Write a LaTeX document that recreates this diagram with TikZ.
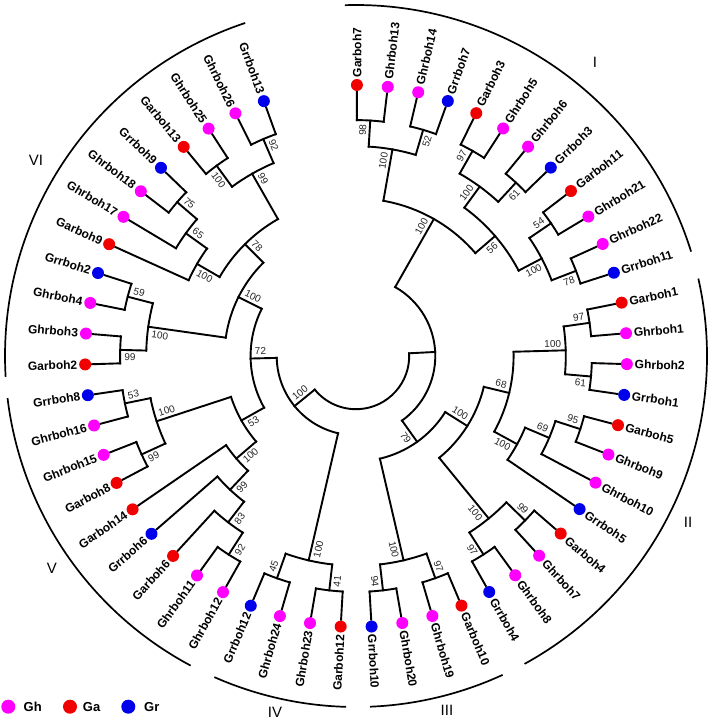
\documentclass[tikz,border=0pt]{standalone}
\usepackage{fontspec}
\setmainfont{Liberation Sans}
\definecolor{colGh}{RGB}{255,0,255}
\definecolor{colGa}{RGB}{240,0,0}
\definecolor{colGr}{RGB}{0,0,235}

\begin{document}
\begin{tikzpicture}[line width=1.9pt, line cap=rect,
    leaf/.style={font=\bfseries\fontsize{12}{14}\selectfont, inner sep=1pt},
    boot/.style={font=\fontsize{10}{12}\selectfont, text=black!85, inner sep=2.5pt},
    dot/.style={circle, inner sep=0pt, minimum size=12pt},
    clade/.style={font=\fontsize{15}{18}\selectfont},
    key/.style={font=\bfseries\fontsize{13}{15}\selectfont, inner sep=0pt}]
  \useasboundingbox (-356pt,-365pt) rectangle (353pt,356pt);

  % internal nodes: name / position / height / parent height / first / last child / support / side
  \foreach \nm/\tp/\hh/\hp/\fa/\fb/\bsv/\sd in {
      n98/0.5/1/2/0/1/98/1, n52/2.5/1/2/2/3/52/-1, n100a/1.5/2/4/0.5/2.5/100/1,
      n97/4.5/1/2/4/5/97/1, n61/6.5/1/2/6/7/61/-1, n100b/5.5/2/3/4.5/6.5/100/1,
      n54/8.5/1/2/8/9/54/1, n78/10.5/1/2/10/11/78/-1, n100c/9.5/2/3/8.5/10.5/100/-1,
      n56/7.5/3/4/5.5/9.5/56/-1, nI/4.5/4/7/1.5/7.5/100/1,
      n97II/12.5/1/2/12/13/97/1, n61II/14.5/1/2/14/15/61/-1, n100IIa/13.5/2/4/12.5/14.5/100/1,
      n95/16.5/1/2/16/17/95/1, n69/17.25/2/3/16.5/18/69/1, n100IIb/18.125/3/4/17.25/19/100/-1,
      n68/15.8125/4/5/13.5/18.125/68/1, n99II/20.5/1/2/20/21/99/1, n97IIb/22.5/1/2/22/23/97/-1,
      n100IIc/21.5/2/5/20.5/22.5/100/-1, nII/18.65625/5/6/15.8125/21.5/100/1,
      n97III/24.5/1/2/24/25/97/1, n94/26.5/1/2/26/27/94/-1, nIII/25.5/2/6/24.5/26.5/100/-1,
      n79/22.078125/6/7/18.65625/25.5/79/-1,
      n41/28.5/1/2/28/29/41/1, n45/30.5/1/2/30/31/45/-1, nIV/29.5/2/7/28.5/30.5/100/1,
      n92V/32.5/1/2/32/33/92/1, n83/33.25/2/3/32.5/34/83/1, n99V/34.125/3/4/33.25/35/99/1,
      n100V/35.0625/4/5/34.125/36/100/1, n99Vb/37.5/1/2/37/38/99/1, n53/39.5/1/2/39/40/53/-1,
      n100Vb/38.5/2/5/37.5/39.5/100/-1, nV/36.78125/5/6/35.0625/38.5/53/1,
      n99VI/41.5/1/2/41/42/99/1, n59/43.5/1/2/43/44/59/-1, n100VI/42.5/2/5/41.5/43.5/100/1,
      n75/47.5/1/2/47/48/75/-1, n65/46.75/2/3/46/47.5/65/-1, n100VIb/45.875/3/4/45/46.75/100/1,
      n100VIc/49.5/1/2/49/50/100/1, n92VI/51.5/1/2/51/52/92/-1, n99VIb/50.5/2/4/49.5/51.5/99/-1,
      n78VI/48.1875/4/5/45.875/50.5/78/-1, nVI/45.34375/5/6/42.5/48.1875/100/-1,
      n72/41.0625/6/7/36.78125/45.34375/72/-1, nA/35.28125/7/8/29.5/41.0625/100/-1}
  {
    \pgfmathsetmacro\an{89.8-6.537*\tp}
    \pgfmathsetmacro\rr{262-26.1*\hh}
    \pgfmathsetmacro\rpar{262-26.1*\hp}
    \pgfmathsetmacro\aa{89.8-6.537*\fa}
    \pgfmathsetmacro\ab{89.8-6.537*\fb}
    \pgfmathsetmacro\rl{\rr-1}
    \coordinate (\nm) at (\an:\rr pt);
    \coordinate (\nm-b) at (\an:\rpar pt);
    \coordinate (\nm-s) at (\aa:\rr pt);
    \draw (\nm-b) -- (\nm);
    \draw (\nm-s) arc[start angle=\aa, end angle=\ab, radius=\rr pt];
    \ifdim\an pt>-90pt
      \edef\rot{\an}
      \ifnum\sd>0 \def\anc{south east}\else\def\anc{north east}\fi
    \else
      \pgfmathsetmacro\rot{\an+180}
      \ifnum\sd>0 \def\anc{north west}\else\def\anc{south west}\fi
    \fi
    \node[boot, anchor=\anc, rotate=\rot] (\nm-l) at (\an:\rl pt) {\bsv};
  }

  % the two branches next to the root
  \pgfmathsetmacro\an{89.8-6.537*13.2890625}
  \pgfmathsetmacro\aa{89.8-6.537*4.5}
  \pgfmathsetmacro\ab{89.8-6.537*22.078125}
  \coordinate (nB) at (\an:79.3pt);
  \coordinate (nB-b) at (\an:53.2pt);
  \coordinate (nB-s) at (\aa:79.3pt);
  \draw (nB-b) -- (nB);
  \draw (nB-s) arc[start angle=\aa, end angle=\ab, radius=79.3pt];
  \pgfmathsetmacro\aa{89.8-6.537*35.28125}
  \coordinate (root-s) at (\an:53.2pt);
  \draw (root-s) arc[start angle=\an, end angle=\aa, radius=53.2pt];

  % leaves
  \foreach \nm/\tp/\hp/\sp in {
      Garboh7/0/1/Ga, Ghrboh13/1/1/Gh, Ghrboh14/2/1/Gh, Grrboh7/3/1/Gr,
      Garboh3/4/1/Ga, Ghrboh5/5/1/Gh, Ghrboh6/6/1/Gh, Grrboh3/7/1/Gr,
      Garboh11/8/1/Ga, Ghrboh21/9/1/Gh, Ghrboh22/10/1/Gh, Grrboh11/11/1/Gr,
      Garboh1/12/1/Ga, Ghrboh1/13/1/Gh, Ghrboh2/14/1/Gh, Grrboh1/15/1/Gr,
      Garboh5/16/1/Ga, Ghrboh9/17/1/Gh, Ghrboh10/18/2/Gh, Grrboh5/19/3/Gr,
      Garboh4/20/1/Ga, Ghrboh7/21/1/Gh, Ghrboh8/22/1/Gh, Grrboh4/23/1/Gr,
      Garboh10/24/1/Ga, Ghrboh19/25/1/Gh, Ghrboh20/26/1/Gh, Grrboh10/27/1/Gr,
      Garboh12/28/1/Ga, Ghrboh23/29/1/Gh, Ghrboh24/30/1/Gh, Grrboh12/31/1/Gr,
      Ghrboh12/32/1/Gh, Ghrboh11/33/1/Gh, Garboh6/34/2/Ga, Grrboh6/35/3/Gr,
      Garboh14/36/4/Ga, Garboh8/37/1/Ga, Ghrboh15/38/1/Gh, Ghrboh16/39/1/Gh,
      Grrboh8/40/1/Gr, Garboh2/41/1/Ga, Ghrboh3/42/1/Gh, Ghrboh4/43/1/Gh,
      Grrboh2/44/1/Gr, Garboh9/45/3/Ga, Ghrboh17/46/2/Gh, Ghrboh18/47/1/Gh,
      Grrboh9/48/1/Gr, Garboh13/49/1/Ga, Ghrboh25/50/1/Gh, Ghrboh26/51/1/Gh,
      Grrboh13/52/1/Gr}
  {
    \pgfmathsetmacro\an{89.8-6.537*\tp}
    \pgfmathsetmacro\rpar{262-26.1*\hp}
    \coordinate (\nm-b) at (\an:\rpar pt);
    \node[dot, fill=col\sp] (\nm) at (\an:271pt) {};
    \draw (\nm-b) -- (\nm);
    \ifdim\an pt>-90pt
      \node[leaf, anchor=west, rotate=\an] (\nm-t) at (\an:277pt) {\nm};
    \else
      \pgfmathsetmacro\rot{\an+180}
      \node[leaf, anchor=east, rotate=\rot] (\nm-t) at (\an:277pt) {\nm};
    \fi
  }

  % clade arcs
  \foreach \sa/\ea in {91.8/17.3, 12.75/-61.3, -65.3/-87.7, -91.6/-113.8, -118.1/-173.1, 183.4/108.4}
    \draw[line width=1.7pt, line cap=butt] (\sa:351pt) arc[start angle=\sa, end angle=\ea, radius=351pt];

  \node[clade] (labI) at (239pt,294pt) {I};
  \node[clade] (labII) at (332pt,-166pt) {II};
  \node[clade] (labIII) at (91pt,-354pt) {III};
  \node[clade] (labIV) at (-81pt,-356pt) {IV};
  \node[clade] (labV) at (-304pt,-212pt) {V};
  \node[clade] (labVI) at (-320pt,196pt) {VI};

  % key
  \node[dot, fill=colGh, minimum size=14pt] (keyGh) at (-347.7pt,-350.7pt) {};
  \node[key, anchor=west] (keyGh-t) at (-333.3pt,-350.7pt) {Gh};
  \node[dot, fill=colGa, minimum size=14pt] (keyGa) at (-286pt,-350.7pt) {};
  \node[key, anchor=west] (keyGa-t) at (-274pt,-350.7pt) {Ga};
  \node[dot, fill=colGr, minimum size=14pt] (keyGr) at (-227.7pt,-350.7pt) {};
  \node[key, anchor=west] (keyGr-t) at (-212.7pt,-350.7pt) {Gr};
\end{tikzpicture}
\end{document}
